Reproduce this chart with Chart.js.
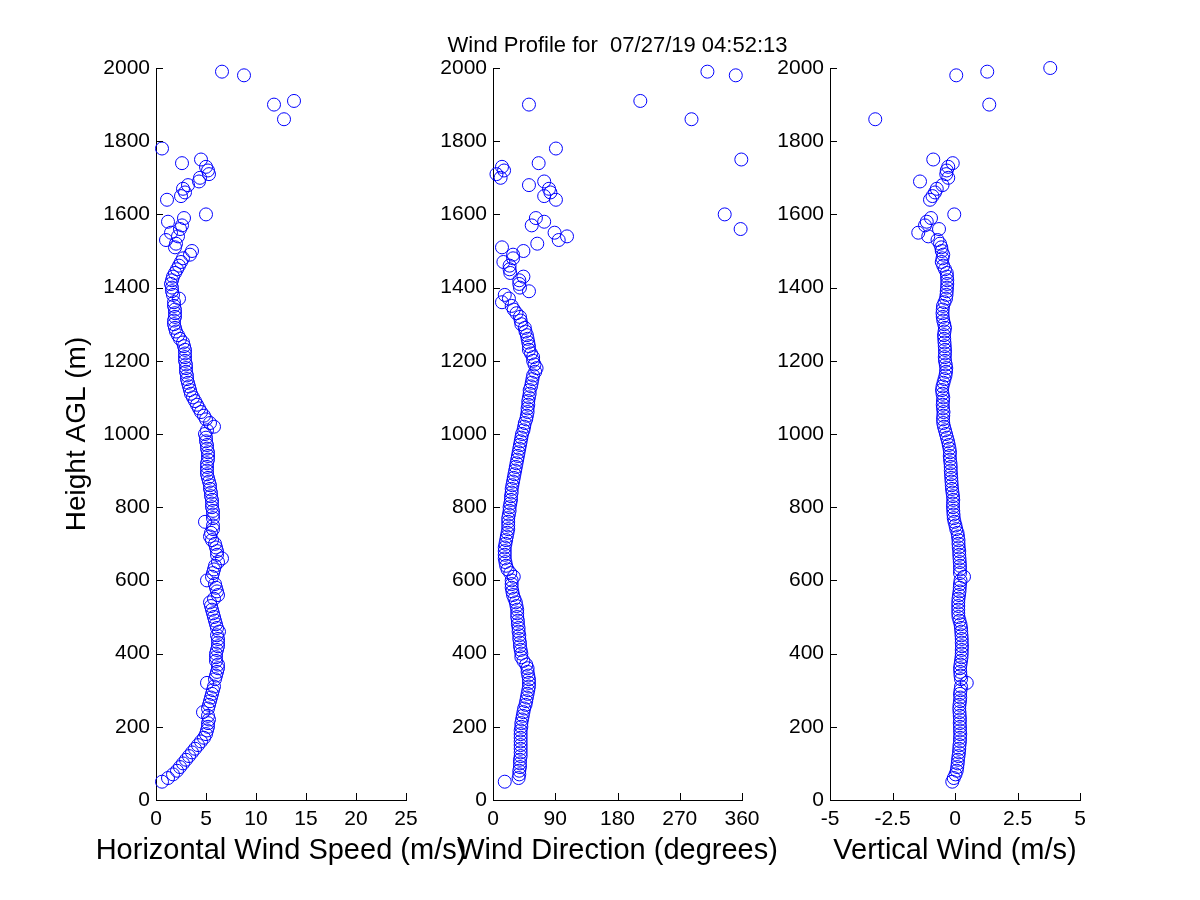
<!DOCTYPE html>
<html>
<head>
<meta charset="utf-8">
<title>Wind Profile</title>
<script src="https://cdn.jsdelivr.net/npm/chart.js@4.4.1/dist/chart.umd.min.js"></script>
<style>
  html, body { margin: 0; padding: 0; background: #fff; }
  #wrap { position: relative; width: 1200px; height: 900px; }
  #wrap canvas { position: absolute; left: 0; top: 0; }
</style>
</head>
<body>
<div id="wrap">
  <canvas id="panelSpeed" width="1200" height="900"></canvas>
  <canvas id="panelDir" width="1200" height="900"></canvas>
  <canvas id="panelVert" width="1200" height="900"></canvas>
</div>
<script>
// heights of the range gates (m AGL), rows of 10
const heights = [
  50, 60, 70, 80, 90, 100, 110, 120, 130, 140,
  150, 160, 170, 180, 190, 200, 210, 220, 230, 240,
  250, 260, 270, 280, 290, 300, 310, 320, 330, 340,
  350, 360, 370, 380, 390, 400, 410, 420, 430, 440,
  450, 460, 470, 480, 490, 500, 510, 520, 530, 540,
  550, 560, 570, 580, 590, 600, 610, 620, 630, 640,
  650, 660, 670, 680, 690, 700, 710, 720, 730, 740,
  750, 760, 770, 780, 790, 800, 810, 820, 830, 840,
  850, 860, 870, 880, 890, 900, 910, 920, 930, 940,
  950, 960, 970, 980, 990, 1000, 1010, 1020, 1030, 1040,
  1050, 1060, 1070, 1080, 1090, 1100, 1110, 1120, 1130, 1140,
  1150, 1160, 1170, 1180, 1190, 1200, 1210, 1220, 1230, 1240,
  1250, 1260, 1270, 1280, 1290, 1300, 1310, 1320, 1330, 1340,
  1350, 1360, 1370, 1380, 1390, 1400, 1410, 1420, 1430, 1440,
  1450, 1460, 1470, 1480, 1490, 1500, 1510, 1520, 1530, 1540,
  1550, 1560, 1570, 1580, 1590, 1600, 1610, 1620, 1630, 1640,
  1650, 1660, 1670, 1680, 1690, 1700, 1710, 1720, 1730, 1740,
  1750, 1760, 1770, 1780, 1860, 1900, 1910, 1980, 1990, 2000
];

// horizontal wind speed (m/s), null = no valid value
const speed = [
  0.6, 1.2, 1.7, 2.1, 2.4, 2.7, 3.0, 3.3, 3.6, 3.9,
  4.2, 4.5, 4.8, 5.0, 5.1, 5.2, 5.2, 5.3, 5.2, 4.7,
  5.2, 5.3, 5.4, 5.5, 5.6, 5.7, 5.8, 5.1, 5.9, 6.0,
  6.1, 6.2, 6.2, 6.0, 6.0, 6.0, 6.1, 6.2, 6.2, 6.2,
  6.1, 6.3, 6.1, 6.0, 5.9, 5.8, 5.7, 5.6, 5.5, 5.4,
  5.8, 6.2, 6.1, 6.0, 5.9, 5.1, 5.6, 5.7, 5.8, 5.9,
  6.2, 6.6, 6.1, 6.1, 6.0, 5.9, 5.6, 5.4, 5.5, 5.7,
  5.7, 4.9, 5.7, 5.7, 5.7, 5.6, 5.6, 5.6, 5.5, 5.5,
  5.4, 5.4, 5.3, 5.2, 5.1, 5.1, 5.1, 5.1, 5.2, 5.2,
  5.2, 5.1, 5.1, 5.0, 5.0, 4.9, 5.1, 5.8, 5.4, 5.0,
  4.8, 4.5, 4.3, 4.1, 3.9, 3.7, 3.5, 3.4, 3.3, 3.2,
  3.1, 3.1, 3.0, 3.0, 3.0, 2.9, 2.9, 2.9, 2.9, 2.8,
  2.7, 2.4, 2.2, 2.0, 1.9, 1.8, 1.8, 1.9, 1.9, 1.9,
  1.8, 1.8, 2.3, 1.7, 1.6, 1.6, 1.5, 1.6, 1.7, 1.9,
  2.1, 2.3, 2.5, 2.7, 3.4, 3.6, 1.9, 2.0, 1.0, 2.2,
  1.5, 2.4, 2.6, 1.2, 2.8, 5.0, null, null, null, 1.1,
  2.5, 2.9, 2.7, 3.2, 4.3, 4.4, 5.3, 5.2, 5.0, 2.6,
  4.5, null, null, 0.6, 12.8, 11.8, 13.8, 8.8, 6.6, null
];

// wind direction (degrees)
const direction = [
  17, 37, 38, 38, 39, 39, 39, 40, 40, 40,
  40, 40, 40, 40, 40, 41, 41, 42, 43, 44,
  45, 47, 48, 49, 50, 51, 52, 52, 52, 51,
  50, 50, 48, 44, 41, 41, 40, 39, 39, 38,
  38, 37, 37, 36, 36, 35, 35, 35, 34, 33,
  31, 29, 28, 27, 27, 27, 30, 25, 21, 19,
  18, 17, 17, 17, 17, 18, 19, 20, 21, 22,
  22, 22, 22, 23, 24, 24, 25, 26, 26, 27,
  27, 28, 29, 30, 31, 32, 33, 34, 35, 36,
  37, 38, 39, 40, 41, 42, 44, 45, 46, 48,
  49, 50, 50, 51, 51, 52, 53, 53, 55, 56,
  57, 58, 61, 63, 60, 58, 58, 55, 52, 52,
  51, 50, 49, 47, 46, 41, 40, 39, 34, 30,
  27, 13, 23, 17, 52, 39, 38, 38, 44, 25,
  24, 24, 15, 29, 29, 44, 13, 64, 95, 107,
  89, 358, 56, 74, 62, 335, null, null, null, 91,
  74, 83, 81, 52, 74, 11, 5, 16, 13, 66,
  359, null, null, 91, 287, 52, 213, 351, 310, null
];

// vertical wind (m/s)
const vertical = [
  -0.11, -0.05, 0.02, 0.07, 0.09, 0.11, 0.12, 0.14, 0.16, 0.17,
  0.18, 0.2, 0.2, 0.21, 0.2, 0.2, 0.19, 0.2, 0.19, 0.18,
  0.17, 0.18, 0.2, 0.21, 0.2, 0.22, 0.24, 0.47, 0.24, 0.22,
  0.21, 0.2, 0.22, 0.24, 0.26, 0.27, 0.27, 0.28, 0.27, 0.27,
  0.26, 0.25, 0.24, 0.22, 0.18, 0.14, 0.13, 0.13, 0.13, 0.13,
  0.14, 0.16, 0.18, 0.19, 0.2, 0.22, 0.36, 0.2, 0.2, 0.2,
  0.19, 0.18, 0.17, 0.17, 0.15, 0.14, 0.14, 0.12, 0.1, 0.05,
  0.02, -0.02, -0.05, -0.06, -0.07, -0.08, -0.08, -0.07, -0.08, -0.1,
  -0.12, -0.13, -0.14, -0.15, -0.16, -0.17, -0.17, -0.18, -0.2, -0.21,
  -0.2, -0.22, -0.25, -0.28, -0.32, -0.36, -0.4, -0.44, -0.47, -0.48,
  -0.47, -0.46, -0.48, -0.49, -0.48, -0.47, -0.5, -0.52, -0.5, -0.46,
  -0.42, -0.38, -0.36, -0.35, -0.37, -0.4, -0.41, -0.4, -0.4, -0.41,
  -0.42, -0.43, -0.44, -0.42, -0.4, -0.43, -0.47, -0.49, -0.5, -0.49,
  -0.48, -0.42, -0.36, -0.34, -0.33, -0.32, -0.31, -0.31, -0.32, -0.33,
  -0.4, -0.47, -0.53, -0.5, -0.47, -0.53, -0.55, -0.6, -0.7, -1.07,
  -1.47, -0.64, -1.2, -1.13, -0.96, -0.03, null, null, null, -1.0,
  -0.9, -0.8, -0.73, -0.5, -1.4, -0.27, -0.35, -0.33, -0.27, -0.09,
  -0.87, null, null, null, -3.19, 1.37, null, 0.05, 1.29, 3.81
];

const titleText = 'Wind Profile for  07/27/19 04:52:13';
const yLabel = 'Height AGL (m)';
const fontFam = "'Liberation Sans', Arial, Helvetica, sans-serif";

function toPoints(vals) {
  const pts = [];
  vals.forEach((v, i) => {
    if (v !== null) pts.push({ x: v, y: heights[i] });
  });
  return pts;
}

// matlab style ticks pointing into the plot
const inwardTicks = {
  id: 'inwardTicks',
  afterDraw(chart) {
    const { ctx, chartArea, scales } = chart;
    const xs = scales.x, ys = scales.y;
    ctx.save();
    ctx.strokeStyle = '#000';
    ctx.lineWidth = 1;
    ctx.beginPath();
    xs.ticks.forEach(t => {
      const px = Math.round(xs.getPixelForValue(t.value)) + 0.5;
      ctx.moveTo(px, chartArea.bottom);
      ctx.lineTo(px, chartArea.bottom - 7);
    });
    ys.ticks.forEach(t => {
      const py = Math.round(ys.getPixelForValue(t.value)) + 0.5;
      ctx.moveTo(chartArea.left, py);
      ctx.lineTo(chartArea.left + 7, py);
    });
    ctx.stroke();
    ctx.restore();
  }
};

// figure title and x label; drawn by hand so the text is not squeezed to the axes width
const panelText = {
  id: 'panelText',
  afterDraw(chart, args, opts) {
    const { ctx, chartArea } = chart;
    const cx = (chartArea.left + chartArea.right) / 2;
    ctx.save();
    ctx.fillStyle = '#000';
    ctx.textAlign = 'center';
    if (opts.title) {
      ctx.font = '22px ' + fontFam;
      ctx.textBaseline = 'alphabetic';
      ctx.fillText(opts.title, cx, 52);
    }
    if (opts.xLabel) {
      ctx.font = '29px ' + fontFam;
      ctx.textBaseline = 'middle';
      ctx.fillText(opts.xLabel, cx, 851);
    }
    ctx.restore();
  }
};

function makePanel(id, vals, left, right, xMin, xMax, xStep, xTitle, showYTitle, title) {
  return new Chart(document.getElementById(id), {
    type: 'scatter',
    data: {
      datasets: [{
        data: toPoints(vals),
        pointStyle: 'circle',
        pointRadius: 6.5,
        pointHoverRadius: 6.5,
        pointBorderWidth: 1,
        borderColor: '#0000ff',
        backgroundColor: 'rgba(0,0,0,0)',
        clip: false
      }]
    },
    options: {
      responsive: false,
      animation: false,
      events: [],
      layout: { padding: { left: left - 100, right: 1200 - right, top: 68, bottom: 30 } },
      plugins: {
        legend: { display: false },
        tooltip: { enabled: false },
        panelText: { title: title, xLabel: xTitle }
      },
      scales: {
        x: {
          type: 'linear',
          min: xMin, max: xMax,
          grid: { display: false, drawTicks: false },
          border: { display: true, color: '#000', width: 1 },
          ticks: {
            stepSize: xStep, autoSkip: false, maxRotation: 0, padding: 7,
            color: '#000', font: { family: fontFam, size: 21 },
            callback: v => String(v)
          },
          afterFit: s => { s.height = 70; }
        },
        y: {
          type: 'linear',
          min: 0, max: 2000,
          grid: { display: false, drawTicks: false },
          border: { display: true, color: '#000', width: 1 },
          ticks: {
            stepSize: 200, autoSkip: false, padding: 6,
            color: '#000', font: { family: fontFam, size: 21 },
            callback: v => String(v)
          },
          title: {
            display: showYTitle, text: yLabel, color: '#000',
            font: { family: fontFam, size: 28 }
          },
          afterFit: s => { s.width = 100; }
        }
      }
    },
    plugins: [inwardTicks, panelText]
  });
}

makePanel('panelSpeed', speed, 156, 406, 0, 25, 5, 'Horizontal Wind Speed (m/s)', true, '');
makePanel('panelDir', direction, 493, 742, 0, 360, 90, 'Wind Direction (degrees)', false, titleText);
makePanel('panelVert', vertical, 830, 1080, -5, 5, 2.5, 'Vertical Wind (m/s)', false, '');
</script>
</body>
</html>
